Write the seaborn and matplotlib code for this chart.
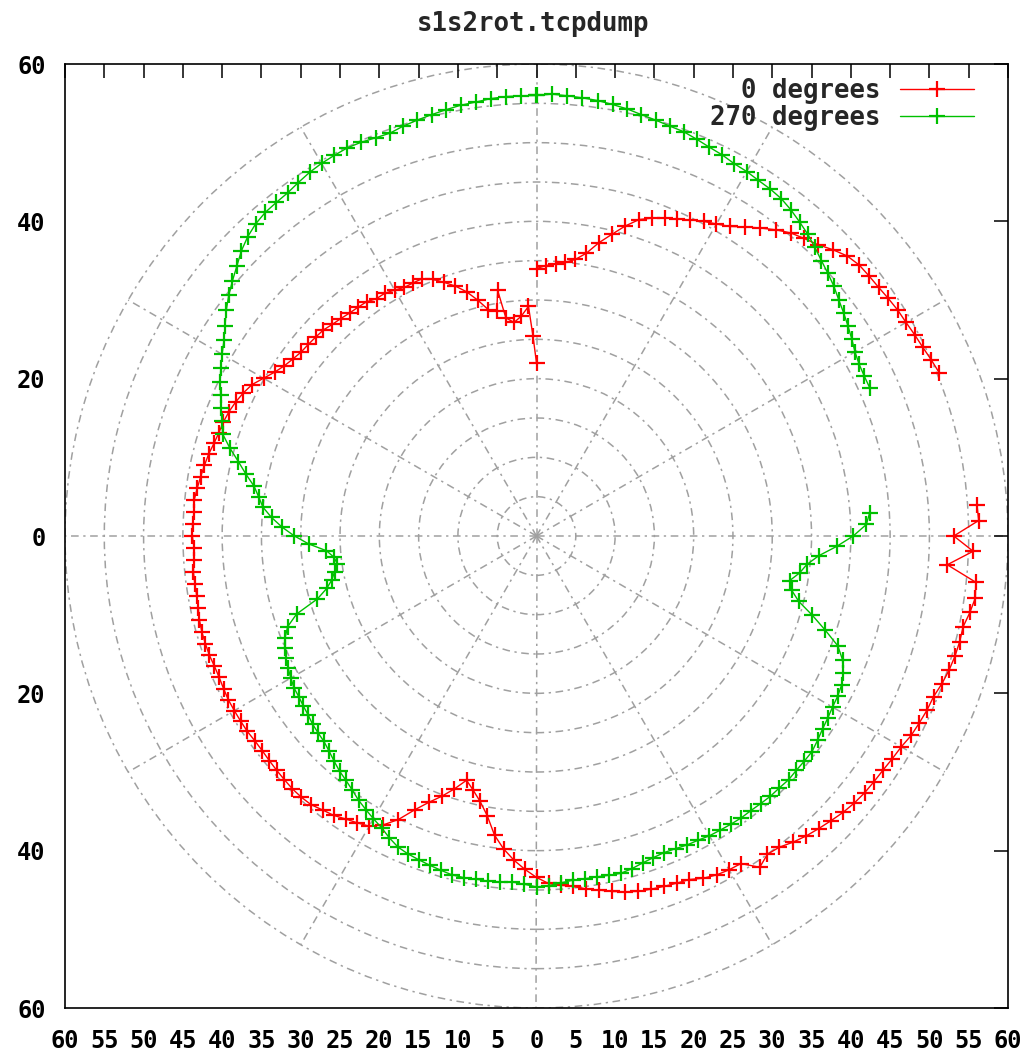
import numpy as np
import pandas as pd
import matplotlib
matplotlib.use("Agg")
import matplotlib.pyplot as plt
import seaborn as sns
from matplotlib.patches import Circle

# ---------------- data (polar: angle in degrees, radius) ----------------
title = "s1s2rot.tcpdump"
series_names = ["0 degrees", "270 degrees"]
series_colors = ["#ff0000", "#00c000"]

red_theta_a = [90, 88, 86, 84, 82, 80, 78, 76, 74, 72, 70, 68, 66, 64, 62, 60, 58, 56, 54, 52,
               50, 48, 46, 44, 42, 40, 38, 36, 34, 32, 30, 28, 26, 24, 22]
red_r_a = [34.0, 34.4, 34.7, 35.0, 35.5, 36.5, 38.1, 39.5, 41.0, 42.3,
           43.0, 43.6, 44.1, 44.7, 45.3, 45.8, 46.4, 47.4, 48.4, 49.4,
           50.3, 50.9, 51.5, 52.4, 53.2, 53.6, 53.7, 53.8, 54.0, 54.2,
           54.3, 54.5, 54.7, 55.0, 55.3]

red_theta_b = [4, 2, 0, -2, -4, -6, -8, -10, -12, -14,
               -16, -18, -20, -22, -24, -26, -28, -30, -32, -34,
               -36, -38, -40, -42, -44, -46, -48, -50, -52, -54,
               -56, -58, -60, -62, -64, -66, -68, -70, -72, -74,
               -76, -78, -80, -82, -84, -86, -88, -90, -92, -94,
               -96, -98, -100, -102, -104, -106, -108, -110, -112, -114,
               -116, -118, -120, -122, -124, -126, -128, -130, -132, -134,
               -136, -138, -140, -142, -144, -146, -148, -150, -152, -154,
               -156, -158, -160, -162, -164, -166, -168, -170, -172, -174,
               -176, -178, -180, -182, -184, -186, -188, -190, -192, -194,
               -196, -198, -200, -202, -204, -206, -208, -210, -212, -214,
               -216, -218, -220, -222, -224, -226, -228, -230, -232, -234,
               -236, -238, -240, -242, -244, -246, -248, -250, -252, -254,
               -256, -258, -260, -261, -262, -264, -266, -268, -269, -270]
red_r_b = [56.2, 56.3, 53.1, 55.6, 52.4, 56.2, 56.4, 56.0, 55.5, 55.5,
           55.4, 55.2, 54.9, 54.5, 54.4, 54.2, 54.0, 53.6, 53.4, 53.2,
           53.1, 53.0, 52.8, 52.5, 52.1, 51.7, 51.3, 50.8, 50.2, 50.0,
           50.8, 49.1, 49.0, 48.8, 48.4, 47.8, 47.6, 47.4, 47.2, 47.0,
           46.6, 46.2, 45.7, 45.3, 44.8, 44.5, 44.2, 43.4, 42.4, 41.3,
           40.0, 38.4, 36.1, 34.5, 33.3, 32.3, 33.8, 35.2, 36.5, 38.1,
           40.1, 41.6, 42.6, 43.0, 43.4, 43.9, 44.2, 44.6, 44.7, 44.7,
           44.6, 44.5, 44.4, 44.3, 44.3, 44.4, 44.4, 44.4, 44.4, 44.3,
           44.2, 44.2, 44.3, 44.3, 44.3, 44.2, 44.0, 43.9, 43.9, 43.9,
           43.7, 43.6, 43.8, 43.8, 43.7, 43.8, 43.6, 43.4, 43.2, 43.0,
           42.7, 42.5, 42.4, 42.2, 41.9, 41.5, 41.0, 40.1, 39.3, 38.7,
           38.3, 38.0, 37.9, 37.8, 37.7, 37.4, 37.2, 37.0, 36.9, 36.8,
           36.4, 36.4, 36.1, 35.8, 35.8, 35.8, 35.2, 34.3, 33.4, 32.3,
           30.9, 29.4, 29.1, 31.6, 28.0, 27.3, 28.0, 29.2, 25.4, 22.0]

green_theta_a = [90, 88, 86, 84, 82, 80, 78, 76, 74, 72, 70, 68, 66, 64, 62, 60, 58, 56, 54, 52,
                 50, 48, 46, 44, 42, 40, 38, 36, 34, 32, 30, 28, 26, 24]
green_r_a = [56.0, 56.2, 56.1, 56.0, 55.9, 55.7, 55.5, 55.2, 55.0, 54.8,
             54.7, 54.4, 54.1, 53.9, 53.6, 53.5, 53.3, 53.2, 53.0, 52.6,
             52.1, 51.6, 51.0, 50.4, 49.9, 49.4, 48.8, 48.3, 47.8, 47.3,
             46.8, 46.5, 46.4, 46.4]

green_theta_b = [4, 2, 0, -2, -4, -6, -8, -10, -12, -14,
                 -16, -18, -20, -22, -24, -26, -28, -30, -32, -34,
                 -36, -38, -40, -42, -44, -46, -48, -50, -52, -54,
                 -56, -58, -60, -62, -64, -66, -68, -70, -72, -74,
                 -76, -78, -80, -82, -84, -86, -88, -90, -92, -94,
                 -96, -98, -100, -102, -104, -106, -108, -110, -112, -114,
                 -116, -118, -120, -122, -124, -126, -128, -130, -132, -134,
                 -136, -138, -140, -142, -144, -146, -148, -150, -152, -154,
                 -156, -158, -160, -162, -164, -166, -168, -170, -172, -174,
                 -176, -178, -180, -182, -184, -186, -188, -190, -192, -194,
                 -196, -198, -200, -202, -204, -206, -208, -210, -212, -214,
                 -216, -218, -220, -222, -224, -226, -228, -230, -232, -234,
                 -236, -238, -240, -242, -244, -246, -248, -250, -252, -254,
                 -256, -258, -260, -262, -264, -266, -268, -270]
green_r_b = [42.5, 42.0, 40.3, 38.2, 36.0, 34.6, 33.8, 32.7, 33.2, 34.4,
             36.5, 38.6, 40.8, 42.0, 42.7, 43.2, 43.4, 43.5, 43.7, 43.9,
             44.2, 44.5, 44.5, 44.5, 44.6, 44.5, 44.5, 44.4, 44.3, 44.3,
             44.2, 44.1, 44.0, 43.8, 43.7, 43.5, 43.4, 43.5, 43.7, 44.0,
             44.2, 44.1, 44.0, 44.0, 44.0, 44.2, 44.5, 44.6, 44.3, 44.1,
             44.2, 44.3, 44.3, 44.4, 44.4, 44.2, 44.0, 43.8, 43.6, 43.3,
             42.7, 42.0, 41.5, 41.0, 40.5, 39.9, 39.4, 39.0, 38.5, 38.0,
             37.6, 37.4, 37.2, 36.9, 36.7, 36.5, 36.4, 36.1, 35.8, 35.5,
             35.1, 34.5, 33.7, 32.1, 29.0, 27.5, 26.6, 26.1, 25.6, 25.9,
             26.8, 29.0, 30.8, 32.4, 33.8, 35.0, 35.7, 36.5, 37.8, 39.1,
             40.6, 42.0, 42.6, 43.3, 44.0, 44.8, 45.5, 46.2, 46.9, 47.8,
             48.8, 49.7, 50.5, 51.3, 52.2, 52.9, 53.4, 53.7, 53.8, 53.9,
             54.2, 54.5, 54.7, 54.8, 54.9, 54.8, 54.6, 54.5, 54.8, 55.0,
             55.2, 55.4, 55.6, 55.7, 55.9, 56.0, 56.0, 56.0]

x_ticks = list(range(-60, 61, 5))
y_ticks = list(range(-60, 61, 20))
grid_radii = list(range(5, 61, 5))
grid_angles = list(range(0, 360, 30))

# ---------------- build table ----------------
rows = []
segments = [
    (series_names[0], 0, red_theta_a, red_r_a),
    (series_names[0], 1, red_theta_b, red_r_b),
    (series_names[1], 0, green_theta_a, green_r_a),
    (series_names[1], 1, green_theta_b, green_r_b),
]
for name, seg, th, rr in segments:
    th = np.radians(np.asarray(th, dtype=float))
    rr = np.asarray(rr, dtype=float)
    for i, (t, r) in enumerate(zip(th, rr)):
        rows.append({"series": name, "segment": seg, "order": i,
                     "x": r * np.cos(t), "y": r * np.sin(t)})
df = pd.DataFrame(rows)

# ---------------- style ----------------
sns.set_theme(style="white")
plt.rcParams["font.family"] = ["DejaVu Sans Mono", "DejaVu Sans"]
plt.rcParams["font.weight"] = "bold"

FS_TICK = 17
FS_TEXT = 18.5
fig = plt.figure(figsize=(10.34, 10.55), dpi=100)
ax = fig.add_axes([65 / 1034, 47 / 1055, 943 / 1034, 944 / 1055])
ax.set_facecolor("white")

gray = "#a0a0a0"
gls = (0, (5, 3, 1.5, 3))
for r in grid_radii:
    ax.add_patch(Circle((0, 0), r, fill=False, ec=gray, lw=1.1, ls=gls, zorder=0.5))
for a in grid_angles:
    ax.plot([0, 60 * np.cos(np.radians(a))], [0, 60 * np.sin(np.radians(a))],
            color=gray, lw=1.1, ls=gls, zorder=0.5)

for name, color in zip(series_names, series_colors):
    for seg in (0, 1):
        sub = df[(df.series == name) & (df.segment == seg)]
        sns.lineplot(data=sub, x="x", y="y", sort=False, estimator=None, ax=ax,
                     color=color, linewidth=1.0, marker="+", markersize=12,
                     markeredgewidth=1.6, markeredgecolor=color,
                     label=name if seg == 0 else None, zorder=3)

ax.set_xlim(-60, 60)
ax.set_ylim(-60, 60)
ax.set_xlabel("")
ax.set_ylabel("")
ax.set_xticks(x_ticks)
ax.set_xticklabels([str(abs(v)) for v in x_ticks])
ax.set_yticks(y_ticks)
ax.set_yticklabels([str(abs(v)) for v in y_ticks])
ax.tick_params(direction="in", length=10, width=1.1, top=True, right=True,
               labelsize=FS_TICK, colors="black")
ax.tick_params(axis="x", pad=15)
ax.tick_params(axis="y", pad=14)
for lab in ax.get_xticklabels() + ax.get_yticklabels():
    lab.set_fontweight("bold")
for sp in ax.spines.values():
    sp.set_color("black")
    sp.set_linewidth(1.2)

handles, labels = ax.get_legend_handles_labels()
leg = ax.legend(handles[:2], labels[:2], loc="upper right", bbox_to_anchor=(0.975, 0.996),
                borderaxespad=0, frameon=False, markerfirst=False, fontsize=FS_TEXT,
                handlelength=2.9, handletextpad=0.75, labelspacing=0.02)
for t in leg.get_texts():
    t.set_fontweight("bold")

fig.text(533 / 1034, 1 - 31 / 1055, title, ha="center", va="baseline",
         fontsize=FS_TEXT, fontweight="bold")

fig.savefig("out.png", dpi=100)
